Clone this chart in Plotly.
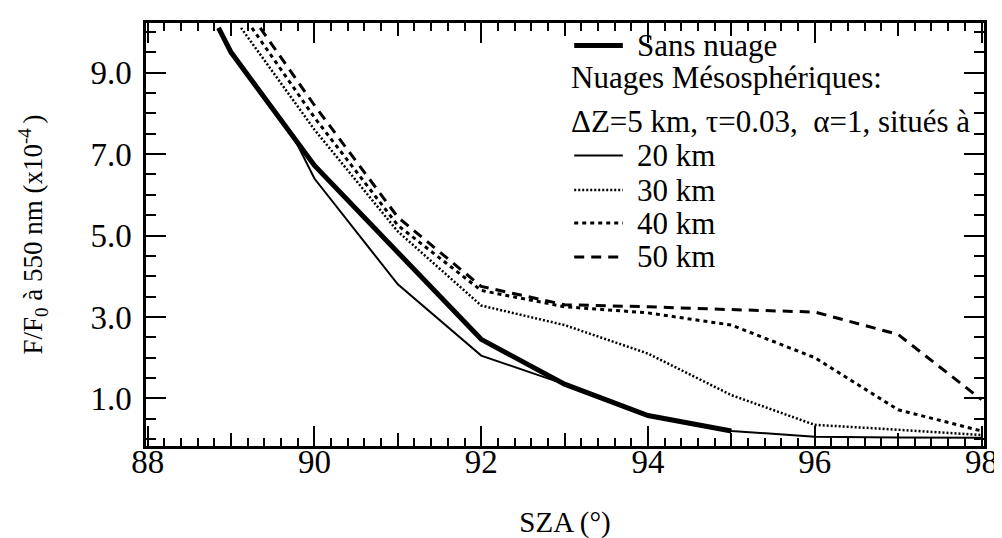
import plotly.graph_objects as go

# SZA (deg) / F/F0 at 550 nm (x1e-4)
sza_sans = [88.85, 89.0, 90.0, 91.0, 92.0, 93.0, 94.0, 95.0]
ff0_sans = [10.1, 9.5, 6.72, 4.6, 2.45, 1.35, 0.58, 0.2]

sza_20 = [88.85, 89.0, 89.75, 90.0, 91.0, 92.0, 93.0, 94.0, 95.0, 96.0, 97.0, 98.0]
ff0_20 = [10.1, 9.5, 7.42, 6.4, 3.8, 2.05, 1.35, 0.58, 0.2, 0.06, 0.04, 0.03]

sza_30 = [89.12, 90.0, 91.0, 92.0, 93.0, 94.0, 95.0, 96.0, 97.0, 98.0]
ff0_30 = [10.1, 7.6, 5.1, 3.28, 2.8, 2.1, 1.08, 0.35, 0.23, 0.1]

sza_40 = [89.25, 90.0, 91.0, 92.0, 93.0, 94.0, 95.0, 96.0, 97.0, 98.0]
ff0_40 = [10.1, 7.9, 5.25, 3.65, 3.25, 3.1, 2.8, 2.0, 0.72, 0.2]

sza_50 = [89.35, 90.0, 91.0, 92.0, 93.0, 94.0, 95.0, 96.0, 97.0, 98.0]
ff0_50 = [10.1, 8.2, 5.45, 3.75, 3.3, 3.25, 3.18, 3.12, 2.57, 0.97]

labels = ["Sans nuage", "20 km", "30 km", "40 km", "50 km"]
header = ["Nuages Mésosphériques:", "ΔZ=5 km, τ=0.03,  α=1, situés à"]

FONT = "Liberation Serif"

series = [
    (sza_sans, ff0_sans, 5, "solid"),
    (sza_20, ff0_20, 2, "solid"),
    (sza_30, ff0_30, 2.5, "2px,2px"),
    (sza_40, ff0_40, 3, "4px,4px"),
    (sza_50, ff0_50, 3, "10px,7px"),
]

fig = go.Figure()
for i, (xs, ys, w, dash) in enumerate(series):
    fig.add_trace(go.Scatter(
        x=xs, y=ys, mode="lines", name=labels[i],
        line=dict(color="black", width=w, dash=dash),
        xaxis="x2" if i == 1 else "x",
        showlegend=False, hoverinfo="skip",
    ))

# --- legende faite a la main ---
x_line0, x_line1, x_text = 0.511, 0.569, 0.583
x_head = 0.505
rows_y = [0.947, 0.687, 0.605, 0.527, 0.447]
head_y = [0.872, 0.767]
for i, (xs, ys, w, dash) in enumerate(series):
    fig.add_shape(type="line", xref="paper", yref="paper",
                  x0=x_line0, x1=x_line1, y0=rows_y[i], y1=rows_y[i],
                  line=dict(color="black", width=w, dash=dash))
    fig.add_annotation(x=x_text, y=rows_y[i], xref="paper", yref="paper",
                       text=labels[i], showarrow=False, xanchor="left", yanchor="middle",
                       font=dict(family=FONT, size=31, color="black"))
for txt, yy in zip(header, head_y):
    fig.add_annotation(x=x_head, y=yy, xref="paper", yref="paper",
                       text=txt, showarrow=False, xanchor="left", yanchor="middle",
                       font=dict(family=FONT, size=31, color="black"))

tickfont = dict(family=FONT, size=33, color="black")
fig.update_layout(
    width=1002, height=538,
    paper_bgcolor="white", plot_bgcolor="white",
    margin=dict(l=138, r=15, t=12, b=100),
    font=dict(family=FONT, color="black"),
    xaxis=dict(
        range=[87.98, 98.03], tick0=88, dtick=2, tickformat="d",
        ticks="inside", ticklen=20, tickwidth=2, tickcolor="black",
        minor=dict(dtick=0.2, ticks="inside", ticklen=8, tickwidth=2, tickcolor="black"),
        showline=True, linewidth=3, linecolor="black", mirror="ticks",
        showgrid=False, zeroline=False, tickfont=tickfont, ticklabelstandoff=-16,
        title=dict(text="SZA (°)", font=dict(family=FONT, size=29), standoff=34),
    ),
    xaxis2=dict(
        overlaying="x", matches="x", anchor="y", tick0=89, dtick=2,
        ticks="inside", ticklen=13, tickwidth=2, tickcolor="black",
        showticklabels=False, showline=False, mirror="ticks",
        showgrid=False, zeroline=False,
    ),
    yaxis=dict(
        range=[-0.17, 10.22], tick0=1, dtick=2, tickformat=".1f",
        ticks="inside", ticklen=20, tickwidth=2, tickcolor="black",
        minor=dict(dtick=0.5, ticks="inside", ticklen=10, tickwidth=2, tickcolor="black"),
        showline=True, linewidth=2.5, linecolor="black", mirror="ticks",
        showgrid=False, zeroline=False, tickfont=tickfont, ticklabelstandoff=5,
        title=dict(text="F/F<sub>0</sub> à 550 nm (x10<sup>-4 </sup>)",
                   font=dict(family=FONT, size=27), standoff=40),
    ),
)

fig.write_html("out.html")
